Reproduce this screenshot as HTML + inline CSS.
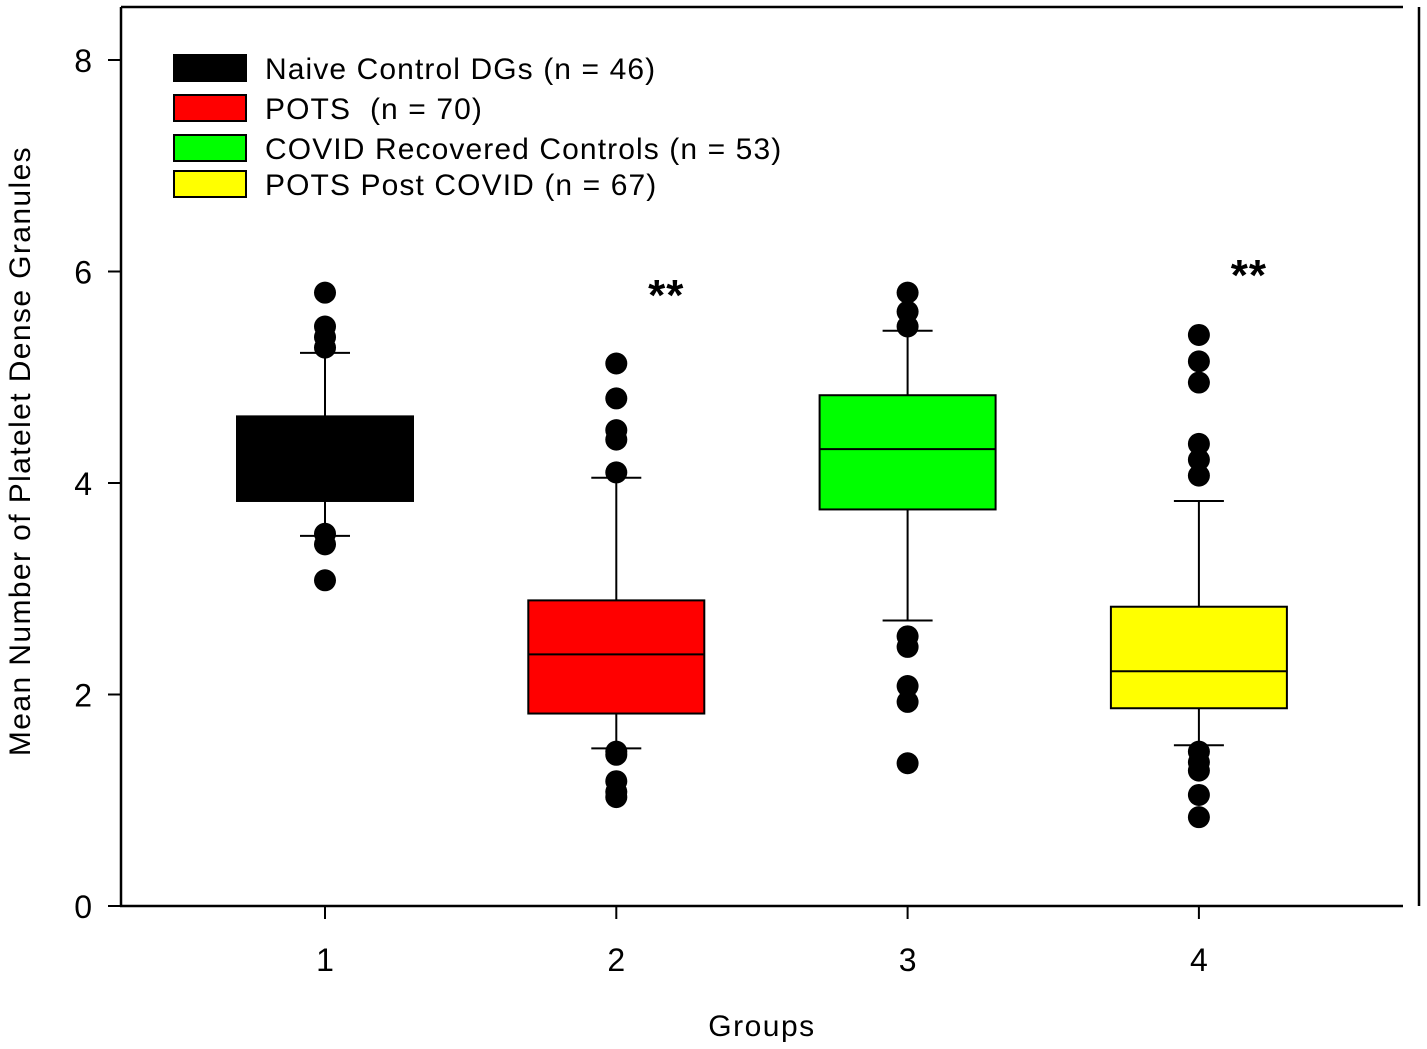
<!DOCTYPE html>
<html><head><meta charset="utf-8"><style>body{margin:0;background:#fff}svg{display:block}text{font-family:"Liberation Sans",Arial,sans-serif;fill:#000;white-space:pre}</style></head>
<body>
<svg id="chart" width="1427" height="1049" viewBox="0 0 1427 1049"></svg>
<script>
const categories = ["1","2","3","4"];
const groupNames = ["Naive Control DGs (n = 46)","POTS  (n = 70)","COVID Recovered Controls (n = 53)","POTS Post COVID (n = 67)"];
const colors = ["#000000","#ff0000","#00ff00","#ffff00"];
const q1 = [3.83,1.82,3.75,1.87];
const q3 = [4.63,2.89,4.83,2.83];
const medians = [4.25,2.38,4.32,2.22];
const whiskLow = [3.50,1.49,2.70,1.52];
const whiskHigh = [5.23,4.05,5.44,3.83];
const outliers = [
  [5.80,5.48,5.38,5.28,3.52,3.42,3.08],
  [5.13,4.80,4.50,4.41,4.10,1.46,1.43,1.18,1.08,1.03],
  [5.80,5.62,5.48,2.55,2.45,2.08,1.93,1.35],
  [5.40,5.15,4.95,4.37,4.22,4.07,1.46,1.36,1.28,1.05,0.84]
];
const yTicks = [0,2,4,6,8];
const stars = ["","**","","**"];
const starVals = [null,5.88,null,6.07];

const NS="http://www.w3.org/2000/svg", svg=document.getElementById('chart');
const y = v => 906 - v*105.75;
const x = i => 325 + i*291.3;
function mk(t,a,p){const e=document.createElementNS(NS,t);for(const k in a)e.setAttribute(k,a[k]);(p||svg).appendChild(e);return e;}

let e;
e=mk('line',{x1:121,y1:7,x2:1403,y2:7,stroke:'#000','stroke-width':2.5});

e=mk('line',{x1:1419,y1:7,x2:1419,y2:906,stroke:'#000','stroke-width':2.5});

e=mk('line',{x1:121,y1:7,x2:121,y2:907,stroke:'#000','stroke-width':2.5});

e=mk('line',{x1:120,y1:906,x2:1403,y2:906,stroke:'#000','stroke-width':2.5});


yTicks.forEach(v=>{
  e=mk('line',{x1:108,y1:y(v),x2:121,y2:y(v),stroke:'#000','stroke-width':2});
  
  e=mk('text',{x:92,y:y(v)+12,'text-anchor':'end','font-size':32});e.textContent=v;
  
});
categories.forEach((c,i)=>{
  e=mk('line',{x1:x(i),y1:906,x2:x(i),y2:919,stroke:'#000','stroke-width':2});
  
  e=mk('text',{x:x(i),y:971,'text-anchor':'middle','font-size':32});e.textContent=c;
  
});
e=mk('text',{x:762,y:1036,'text-anchor':'middle','font-size':30,'letter-spacing':1.5});e.textContent='Groups';

e=mk('text',{x:0,y:0,'text-anchor':'middle','font-size':30,'letter-spacing':1.4,transform:'translate(30,451) rotate(-90)'});e.textContent='Mean Number of Platelet Dense Granules';


categories.forEach((c,i)=>{
  const g=mk('g',{});
  
  const cx=x(i), hw=88, cap=25;
  e=mk('line',{x1:cx,y1:y(whiskLow[i]),x2:cx,y2:y(whiskHigh[i]),stroke:'#000','stroke-width':2},g);
  
  [whiskLow[i],whiskHigh[i]].forEach(v=>{
    e=mk('line',{x1:cx-cap,y1:y(v),x2:cx+cap,y2:y(v),stroke:'#000','stroke-width':2},g);
    
  });
  e=mk('rect',{x:cx-hw,y:y(q3[i]),width:2*hw,height:y(q1[i])-y(q3[i]),fill:colors[i],stroke:'#000','stroke-width':2},g);
  
  e=mk('line',{x1:cx-hw,y1:y(medians[i]),x2:cx+hw,y2:y(medians[i]),stroke:'#000','stroke-width':2},g);
  
  outliers[i].forEach(v=>{
    e=mk('circle',{cx:cx,cy:y(v),r:11,fill:'#000'},g);
    
  });
  if(stars[i]){
    e=mk('text',{x:cx+50,y:y(starVals[i])+26,'text-anchor':'middle','font-size':44,'font-weight':'bold','letter-spacing':1},g);e.textContent=stars[i];
    
  }
});

const lg=mk('g',{});

const ly=[68,108,148,184];
groupNames.forEach((n,i)=>{
  e=mk('rect',{x:174,y:ly[i]-13,width:72,height:26,fill:colors[i],stroke:'#000','stroke-width':2},lg);
  
  e=mk('text',{x:265,y:ly[i]+11,'font-size':30,'letter-spacing':1.1},lg);e.textContent=n;
  
});
</script>
</body></html>
